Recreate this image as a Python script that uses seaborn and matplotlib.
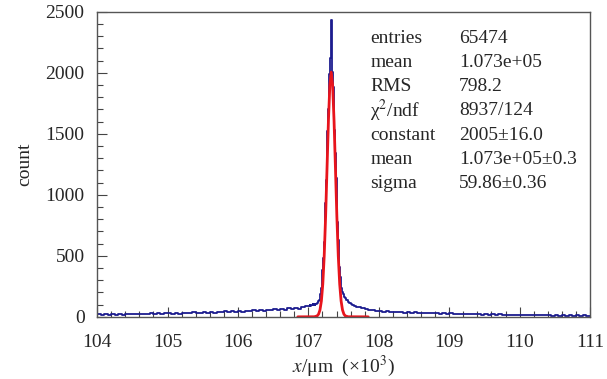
import numpy as np
import pandas as pd
import matplotlib
matplotlib.use("Agg")
import matplotlib.pyplot as plt
import seaborn as sns
from matplotlib.ticker import MultipleLocator

# histogram counts (x in units of 10^3 um)
left_counts = [21, 17, 24, 19, 23, 18, 25, 19, 24, 20,
               26, 21, 25, 27, 22, 28, 23, 29, 24, 28,
               30, 26, 32, 27, 34, 29, 33, 36, 30, 35,
               38, 33, 40, 35, 42, 37, 44, 39, 46, 41,
               48, 43, 51, 45, 54, 48, 56, 50, 59, 53,
               61, 56, 66, 60, 69, 63, 73, 67, 79, 86]
peak_counts = [92, 86, 97, 89, 99, 93, 102, 96, 105, 100,
               109, 105, 113, 118, 126, 138, 158, 190, 235, 300,
               385, 480, 610, 760, 930, 1120, 1320, 1520, 1700, 1860,
               1990, 2120, 2430, 2180, 2010, 1880, 1720, 1530, 1340, 1140,
               950, 780, 630, 510, 410, 330, 275, 235, 205, 185,
               170, 160, 152, 146, 140, 134, 128, 122, 117, 112,
               108, 103, 101, 96, 95, 89, 88, 85, 84, 81]
right_counts = [78, 70, 63, 57, 52, 48,
                47, 42, 45, 39, 42, 37, 40, 35, 38, 33,
                36, 31, 34, 29, 32, 28, 31, 26, 29, 25,
                28, 23, 26, 22, 25, 21, 24, 20, 23, 19,
                22, 18, 21, 17, 20, 16, 19, 15, 18, 15,
                17, 14, 17, 13, 16, 13, 15, 12, 15, 11,
                14, 11, 13, 10, 13, 10, 12, 9, 12, 10]

# gaussian fit curve, sampled
fit_x = [106.85, 107.085, 107.125, 107.145, 107.165, 107.185, 107.205, 107.225,
         107.245, 107.265, 107.285, 107.305, 107.325, 107.345, 107.365, 107.385,
         107.405, 107.425, 107.445, 107.465, 107.485, 107.505, 107.525, 107.565, 107.85]
fit_y = [0, 0.7, 7.6, 21.9, 56.5, 130, 269, 498, 821, 1214, 1604, 1896, 2005,
         1896, 1604, 1214, 821, 498, 269, 130, 56.5, 21.9, 7.6, 0.7, 0]

stat_names = ["entries", "mean", "RMS", "χ$^2$/ndf", "constant", "mean", "sigma"]
stat_values = ["65474", "1.073e+05", "798.2", "8937/124", "2005±16.0",
               "1.073e+05±0.3", "59.86±0.36"]

edges = np.concatenate([np.linspace(104, 107, 61),
                        np.linspace(107.01, 107.70, 70),
                        np.linspace(107.75, 111, 66)])
hist_df = pd.DataFrame({
    "x": (edges[:-1] + edges[1:]) / 2,
    "count": left_counts + peak_counts + right_counts,
})

sns.set_style("ticks")
plt.rcParams["font.family"] = ["Liberation Serif", "DejaVu Serif"]
plt.rcParams["mathtext.fontset"] = "stix"

fig = plt.figure(figsize=(6.07, 3.79), dpi=100)
ax = fig.add_axes([0.160, 0.164, 0.812, 0.805])

sns.histplot(data=hist_df, x="x", weights="count", bins=edges.tolist(),
             element="step", fill=False, color="#1c1c8f", linewidth=1.3, ax=ax)
sns.lineplot(x=fit_x, y=fit_y, color="#e8141c", linewidth=2, ax=ax)

ax.set_xlim(104, 111)
ax.set_ylim(0, 2500)
ax.xaxis.set_major_locator(MultipleLocator(1))
ax.xaxis.set_minor_locator(MultipleLocator(0.2))
ax.yaxis.set_major_locator(MultipleLocator(500))
ax.yaxis.set_minor_locator(MultipleLocator(100))
ax.tick_params(which="major", direction="in", length=7, width=0.8,
               color="#444444", labelsize=14)
ax.tick_params(axis="x", which="major", pad=12)
ax.tick_params(axis="y", which="major", pad=9)
ax.tick_params(which="minor", direction="in", length=4, width=0.8, color="#444444")
for s in ax.spines.values():
    s.set_color("#555555")
    s.set_linewidth(1)

ax.set_xlabel(r"$x$/μm  (×10$^3$)", fontsize=14, labelpad=2)
ax.set_ylabel("count", fontsize=14, labelpad=9)

for i, (n, v) in enumerate(zip(stat_names, stat_values)):
    y = 0.912 - i * 0.079
    ax.text(0.554, y, n, transform=ax.transAxes, fontsize=14, va="center")
    ax.text(0.734, y, v, transform=ax.transAxes, fontsize=14, va="center")

fig.savefig("out.png", dpi=100)
